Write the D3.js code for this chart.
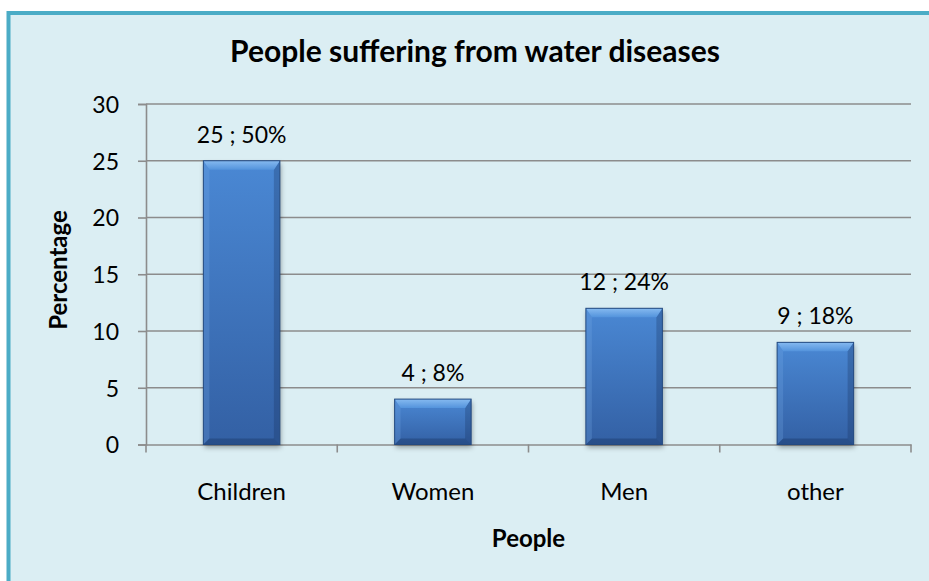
<!DOCTYPE html>
<html>
<head>
<meta charset="utf-8">
<script src="https://cdn.jsdelivr.net/npm/d3@7"></script>
<style>
  html, body { margin: 0; padding: 0; background: #ffffff; }
  svg { display: block; }
  text { font-family: Lato, "Open Sans", sans-serif; fill: #000; }
</style>
</head>
<body>
<svg id="chart" width="929" height="581"></svg>
<script>
// Chart data
const categories = ["Children", "Women", "Men", "other"];
const values = [25, 4, 12, 9];
const percents = [50, 8, 24, 18];
const yTicks = [0, 5, 10, 15, 20, 25, 30];
const chartTitle = "People suffering from water diseases";
const xTitle = "People";
const yTitle = "Percentage";

const svg = d3.select("#chart");
const W = 929, H = 581;

// Frame: pale aqua panel with teal border
svg.append("rect")
  .attr("x", 8.5).attr("y", 13).attr("width", W + 20).attr("height", H + 20)
  .attr("fill", "#DBEEF3").attr("stroke", "#4BACC6").attr("stroke-width", 4);

const plot = { left: 146, right: 911, top: 104, bottom: 444.5 };

const x = d3.scaleBand()
  .domain(categories)
  .range([plot.left, plot.right])
  .paddingInner(0.6)
  .paddingOuter(0.3);

const y = d3.scaleLinear()
  .domain([0, 30])
  .range([plot.bottom, plot.top]);

const defs = svg.append("defs");

const bodyGrad = defs.append("linearGradient")
  .attr("id", "barBody").attr("x1", 0).attr("y1", 0).attr("x2", 0).attr("y2", 1);
bodyGrad.append("stop").attr("offset", "0%").attr("stop-color", "#4A88D4");
bodyGrad.append("stop").attr("offset", "100%").attr("stop-color", "#3360A4");

const topGrad = defs.append("linearGradient")
  .attr("id", "barTop").attr("x1", 0).attr("y1", 0).attr("x2", 0).attr("y2", 1);
topGrad.append("stop").attr("offset", "0%").attr("stop-color", "#86BAF0");
topGrad.append("stop").attr("offset", "100%").attr("stop-color", "#5393DC");

const shadow = defs.append("filter").attr("id", "barShadow")
  .attr("x", "-20%").attr("y", "-20%").attr("width", "140%").attr("height", "140%");
shadow.append("feGaussianBlur").attr("stdDeviation", 2.5);

// Gridlines
svg.append("g")
  .selectAll("line")
  .data(yTicks.filter(t => t > 0))
  .join("line")
  .attr("x1", plot.left).attr("x2", plot.right)
  .attr("y1", d => y(d)).attr("y2", d => y(d))
  .attr("stroke", "#8C8C8C").attr("stroke-width", 1.6);

// Y axis
const yAxis = svg.append("g")
  .attr("transform", `translate(${plot.left},0)`)
  .call(d3.axisLeft(y).tickValues(yTicks).tickSize(8).tickPadding(19));
yAxis.select(".domain").attr("stroke", "#8C8C8C").attr("stroke-width", 1.6);
yAxis.selectAll(".tick line").attr("stroke", "#8C8C8C").attr("stroke-width", 1.6);
yAxis.selectAll(".tick text")
  .attr("font-family", "Lato, sans-serif").attr("font-size", 23).attr("fill", "#000")
  .attr("dy", "0.36em");

// X axis: baseline, boundary ticks and category labels
const xAxis = svg.append("g")
  .attr("transform", `translate(0,${plot.bottom})`)
  .call(d3.axisBottom(x).tickSize(0).tickPadding(38));
xAxis.select(".domain").attr("stroke", "#8C8C8C").attr("stroke-width", 1.6);
xAxis.selectAll(".tick text")
  .attr("font-family", "Lato, sans-serif").attr("font-size", 24).attr("fill", "#000");

const boundaries = d3.range(categories.length + 1).map(i => plot.left + i * x.step());
xAxis.selectAll("line.bound")
  .data(boundaries)
  .join("line")
  .attr("class", "bound")
  .attr("x1", d => d).attr("x2", d => d)
  .attr("y1", 0).attr("y2", 8)
  .attr("stroke", "#8C8C8C").attr("stroke-width", 1.6);

// Bevelled bars
const data = categories.map((c, i) => ({ c, v: values[i], p: percents[i] }));
const bars = svg.append("g").selectAll("g").data(data).join("g");

bars.each(function (d) {
  const g = d3.select(this);
  const x0 = x(d.c), x1 = x0 + x.bandwidth();
  const yT = y(d.v), yB = y(0);
  const bt = 9, bs = 6, bb = 6;

  g.append("rect")
    .attr("x", x0 + 1).attr("y", yT + 3)
    .attr("width", x1 - x0).attr("height", yB - yT)
    .attr("fill", "rgba(0,0,0,0.35)").attr("filter", "url(#barShadow)");

  g.append("rect")
    .attr("x", x0).attr("y", yT).attr("width", x1 - x0).attr("height", yB - yT)
    .attr("fill", "url(#barBody)");

  const poly = (pts, fill) => g.append("polygon")
    .attr("points", pts.map(p => p.join(",")).join(" "))
    .attr("fill", fill);

  poly([[x0, yT], [x0 + bs, yT + bt], [x0 + bs, yB - bb], [x0, yB]], "rgba(120,170,230,0.25)");
  poly([[x1, yT], [x1 - bs, yT + bt], [x1 - bs, yB - bb], [x1, yB]], "rgba(20,45,90,0.28)");
  poly([[x0, yB], [x0 + bs, yB - bb], [x1 - bs, yB - bb], [x1, yB]], "rgba(20,45,90,0.35)");
  poly([[x0, yT], [x1, yT], [x1 - bs, yT + bt], [x0 + bs, yT + bt]], "url(#barTop)");

  g.append("rect")
    .attr("x", x0).attr("y", yT).attr("width", x1 - x0).attr("height", yB - yT)
    .attr("fill", "none").attr("stroke", "#244A80").attr("stroke-width", 1);
});

// Value labels
svg.append("g").selectAll("text").data(data).join("text")
  .attr("x", d => x(d.c) + x.bandwidth() / 2)
  .attr("y", d => y(d.v) - 18)
  .attr("text-anchor", "middle")
  .attr("font-size", 23)
  .text(d => `${d.v} ; ${d.p}%`);

// Titles
svg.append("text")
  .attr("x", 475).attr("y", 62)
  .attr("text-anchor", "middle")
  .attr("font-size", 30).attr("font-weight", "bold")
  .text(chartTitle);

svg.append("text")
  .attr("x", (plot.left + plot.right) / 2).attr("y", 547)
  .attr("text-anchor", "middle")
  .attr("font-size", 24).attr("font-weight", "bold")
  .text(xTitle);

svg.append("text")
  .attr("transform", "translate(67,270) rotate(-90)")
  .attr("text-anchor", "middle")
  .attr("font-size", 24).attr("font-weight", "bold")
  .text(yTitle);
</script>
</body>
</html>
